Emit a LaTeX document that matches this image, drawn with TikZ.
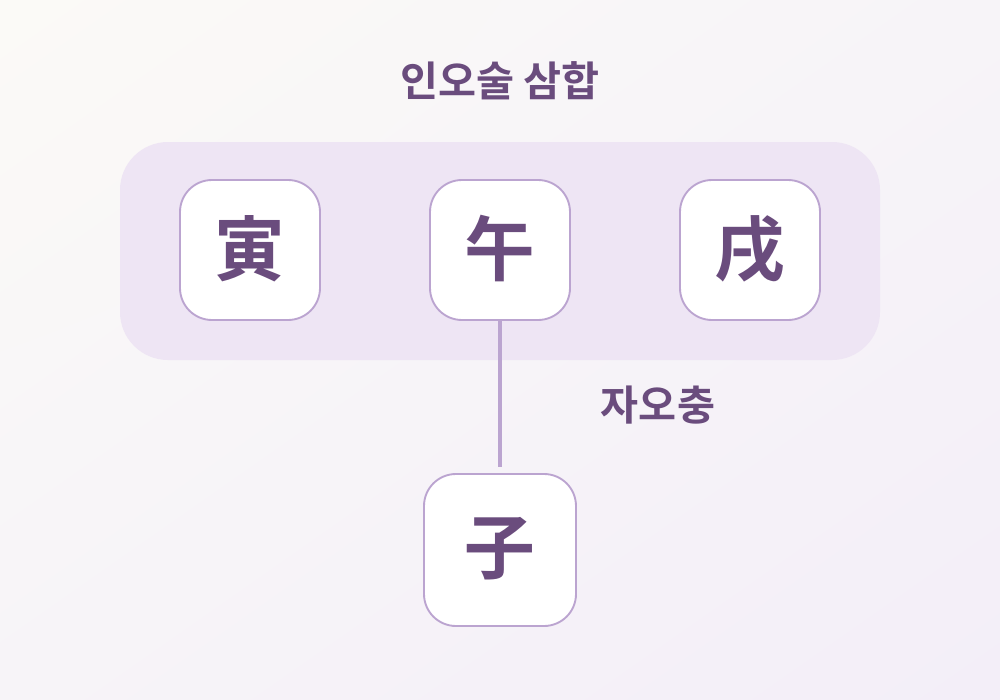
\documentclass[tikz,border=0pt]{standalone}
\usepackage{fontspec}
\usetikzlibrary{shadings}
\newfontfamily\kr{Noto Sans CJK KR}[BoldFont={Noto Sans CJK KR Bold}]
\definecolor{ink}{HTML}{6A4C7D}
\definecolor{edge}{HTML}{BBA4D0}
\definecolor{groupbg}{HTML}{EEE5F4}
\definecolor{bgA}{HTML}{FBFAF7}
\definecolor{bgB}{HTML}{F3EEF8}
\definecolor{bgC}{HTML}{F7F4F8}
\newcommand\upglyph[1]{\raisebox{6.5pt}{#1}}
\begin{document}
\begin{tikzpicture}[x=0.75pt,y=-0.75pt,
  branch/.style={draw=edge,line width=1.4pt,fill=white,rounded corners=24pt,
    minimum width=105pt,minimum height=105pt,inner sep=0pt,
    font=\kr\bfseries\fontsize{53pt}{53pt}\selectfont,text=ink},
  branchbig/.style={branch,minimum width=114pt,minimum height=114pt},
  label/.style={font=\kr\bfseries\fontsize{31pt}{31pt}\selectfont,text=ink,inner sep=0pt},
  link/.style={draw=edge,line width=2.4pt}]
\shade[upper left=bgA,upper right=bgC,lower left=bgC,lower right=bgB] (0,0) rectangle (1000,700);
\useasboundingbox (0,0) rectangle (1000,700);
\fill[groupbg,rounded corners=36pt] (120,142) rectangle (880,360);
\node[label] (title) at (500,81) {인오술 삼합};
\node[branch] (yin) at (250,250) {\upglyph{寅}};
\node[branch] (wu) at (500,250) {\upglyph{午}};
\node[branch] (xu) at (750,250) {\upglyph{戌}};
\node[branchbig] (zi) at (500,550) {\upglyph{子}};
\draw[link] (wu.south) -- ([yshift=4.5pt]zi.north);
\node[label] (chong) at (658,405) {자오충};
\end{tikzpicture}
\end{document}
